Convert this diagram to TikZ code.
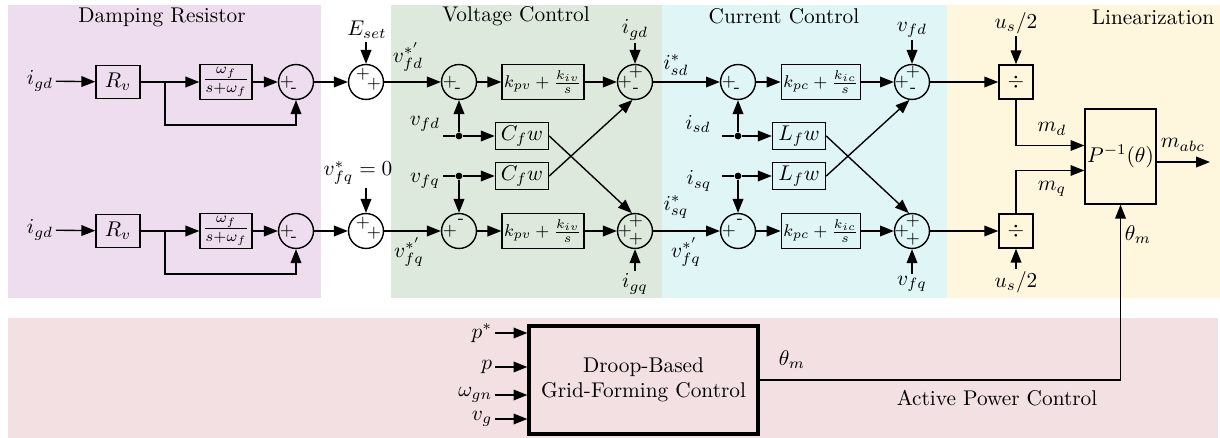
\documentclass[tikz,border=0pt]{standalone}
\usepackage{tikz}
\usetikzlibrary{positioning,arrows.meta}
\usepackage{amsmath}

\definecolor{dampbg}{RGB}{238,221,238}
\definecolor{voltbg}{RGB}{221,233,221}
\definecolor{currbg}{RGB}{224,246,246}
\definecolor{linbg}{RGB}{255,246,222}
\definecolor{apcbg}{RGB}{242,224,226}

\begin{document}
\begin{tikzpicture}[
x=0.0165cm, y=-0.0165cm,
line width=0.65pt,
>={Triangle[length=6.5pt,width=5pt]},
blk/.style={draw, inner sep=1pt},
sum/.style={draw, circle, minimum size=16.4pt, inner sep=0pt},
sgn/.style={inner sep=0pt, font=\footnotesize},
lbl/.style={inner sep=1pt},
dot/.style={circle, fill, inner sep=0pt, minimum size=3.2pt},
res/.style={blk, minimum width=20.7pt, minimum height=15.5pt},
lpf/.style={blk, minimum width=24.4pt, minimum height=16.4pt},
gain/.style={blk, minimum width=24.9pt, minimum height=12.7pt},
pictrl/.style={blk, minimum width=37pt, minimum height=16.4pt, font=\footnotesize},
divbox/.style={blk, minimum width=16pt, minimum height=16pt}]

\useasboundingbox (0,0) rectangle (1220,438);

% backgrounds
\fill[dampbg] (8,5) rectangle (321,298);
\fill[voltbg] (391,5) rectangle (662,298);
\fill[currbg] (662,5) rectangle (947,298);
\fill[linbg] (947,5) rectangle (1220,298);
\fill[apcbg] (8,318) rectangle (1218,438);

\node (tdamp) at (162,17) {Damping Resistor};
\node (tvolt) at (516,16) {Voltage Control};
\node (tcurr) at (784,16) {Current Control};
\node (tlin) at (1153,17) {Linearization};
\node (tapc) at (997,398) {Active Power Control};

% damping resistor, d
\node[lbl] (igd1) at (40,81) {$i_{gd}$};
\node[res] (rv1) at (118,82) {$R_v$};
\coordinate (br1) at (165,82);
\node[lpf] (lpf1) at (226,82) {$\frac{\omega_f}{s+\omega_f}$};
\node[sum] (sd1) at (296,82) {};
\draw[->] (igd1) -- (rv1);
\draw (rv1) -- (br1);
\draw[->] (br1) -- (lpf1);
\draw[->] (lpf1) -- (sd1);
\draw[->] (br1) -- ++(0,43) -| (sd1);

% damping resistor, q
\node[lbl] (igd2) at (40,230) {$i_{gd}$};
\node[res] (rv2) at (118,231) {$R_v$};
\coordinate (br2) at (165,231);
\node[lpf] (lpf2) at (226,231) {$\frac{\omega_f}{s+\omega_f}$};
\node[sum] (sd2) at (296,231) {};
\draw[->] (igd2) -- (rv2);
\draw (rv2) -- (br2);
\draw[->] (br2) -- (lpf2);
\draw[->] (lpf2) -- (sd2);
\draw[->] (br2) -- ++(0,43) -| (sd2);

% references
\node[lbl] (eset) at (367,30) {$E_{set}$};
\node[sum] (es1) at (366,82) {};
\node[lbl] (vfq0) at (358,173) {$v_{fq}^{*}=0$};
\node[sum] (es2) at (366,231) {};
\draw[->] (sd1) -- (es1);
\draw[->] (sd2) -- (es2);
\draw[->] (eset.south -| es1) -- (es1);
\draw[->] (vfq0.south -| es2) -- (es2);
\node[lbl] (vfdr) at (408,57) {$v_{fd}^{*'}$};
\node[lbl] (vfqr) at (409,252) {$v_{fq}^{*'}$};

% voltage control
\node[sum] (vd1) at (459,82) {};
\node[pictrl] (piv1) at (543,82) {$k_{pv}+\frac{k_{iv}}{s}$};
\node[sum] (vd2) at (635,82) {};
\node[lbl] (igdv) at (635,30) {$i_{gd}$};
\node[sum] (vq1) at (459,231) {};
\node[pictrl] (piv2) at (543,231) {$k_{pv}+\frac{k_{iv}}{s}$};
\node[sum] (vq2) at (635,231) {};
\node[lbl] (igq) at (635,284) {$i_{gq}$};
\draw[->] (es1) -- (vd1);
\draw[->] (vd1) -- (piv1);
\draw[->] (piv1) -- (vd2);
\draw[->] (igdv) -- (vd2);
\draw[->] (es2) -- (vq1);
\draw[->] (vq1) -- (piv2);
\draw[->] (piv2) -- (vq2);
\draw[->] (igq) -- (vq2);

\node[lbl] (vfd) at (425,124) {$v_{fd}$};
\coordinate (vfdin) at (443,136);
\node[dot] (jv1) at (459,136) {};
\node[gain] (cf1) at (522,136) {$C_fw$};
\node[lbl] (vfq) at (425,181) {$v_{fq}$};
\coordinate (vfqin) at (443,176);
\node[dot] (jv2) at (459,176) {};
\node[gain] (cf2) at (522,176) {$C_fw$};
\draw (vfdin) -- (jv1);
\draw[->] (jv1) -- (cf1);
\draw[->] (jv1) -- (vd1);
\draw (vfqin) -- (jv2);
\draw[->] (jv2) -- (cf2);
\draw[->] (jv2) -- (vq1);
\draw[->] (cf1.east) -- (vq2.100);
\draw[->] (cf2.east) -- (vd2.262);

% current control
\node[lbl] (isdr) at (676,65) {$i_{sd}^{*}$};
\node[lbl] (isqr) at (676,207) {$i_{sq}^{*}$};
\node[lbl] (vfqr2) at (686,252) {$v_{fq}^{*'}$};
\node[sum] (cd1) at (738,82) {};
\node[pictrl] (pic1) at (821,82) {$k_{pc}+\frac{k_{ic}}{s}$};
\node[sum] (cd2) at (912,82) {};
\node[lbl] (vfdc) at (912,30) {$v_{fd}$};
\node[sum] (cq1) at (738,231) {};
\node[pictrl] (pic2) at (821,231) {$k_{pc}+\frac{k_{ic}}{s}$};
\node[sum] (cq2) at (912,231) {};
\node[lbl] (vfqc) at (912,284) {$v_{fq}$};
\draw[->] (vd2) -- (cd1);
\draw[->] (cd1) -- (pic1);
\draw[->] (pic1) -- (cd2);
\draw[->] (vfdc) -- (cd2);
\draw[->] (vq2) -- (cq1);
\draw[->] (cq1) -- (pic2);
\draw[->] (pic2) -- (cq2);
\draw[->] (vfqc) -- (cq2);

\node[lbl] (isd) at (698,124) {$i_{sd}$};
\coordinate (isdin) at (722,136);
\node[dot] (jc1) at (738,136) {};
\node[gain] (lf1) at (799,136) {$L_fw$};
\node[lbl] (isq) at (699,181) {$i_{sq}$};
\coordinate (isqin) at (722,176);
\node[dot] (jc2) at (738,176) {};
\node[gain] (lf2) at (799,176) {$L_fw$};
\draw (isdin) -- (jc1);
\draw[->] (jc1) -- (lf1);
\draw[->] (jc1) -- (cd1);
\draw (isqin) -- (jc2);
\draw[->] (jc2) -- (lf2);
\draw[->] (jc2) -- (cq1);
\draw[->] (lf1.east) -- (cq2.100);
\draw[->] (lf2.east) -- (cd2.262);

% signs
\node[sgn] at ([shift={(-9,0)}]sd1) {$+$};
\node[sgn] at ([shift={(-2,8)}]sd1) {-};
\node[sgn] at ([shift={(-9,0)}]sd2) {$+$};
\node[sgn] at ([shift={(-2,8)}]sd2) {-};
\node[sgn] at ([shift={(-3,-8)}]es1) {$+$};
\node[sgn] at ([shift={(8,2)}]es1) {$+$};
\node[sgn] at ([shift={(-3,-8)}]es2) {$+$};
\node[sgn] at ([shift={(8,2)}]es2) {$+$};
\node[sgn] at ([shift={(-9,0)}]vd1) {$+$};
\node[sgn] at ([shift={(-1,8)}]vd1) {-};
\node[sgn] at ([shift={(-9,0)}]vq1) {$+$};
\node[sgn] at ([shift={(2,-10)}]vq1) {-};
\node[sgn] at ([shift={(-10,0)}]vd2) {$+$};
\node[sgn] at ([shift={(1,-10)}]vd2) {$+$};
\node[sgn] at ([shift={(1,8)}]vd2) {-};
\node[sgn] at ([shift={(-10,0)}]vq2) {$+$};
\node[sgn] at ([shift={(1,-10)}]vq2) {$+$};
\node[sgn] at ([shift={(1,8)}]vq2) {$+$};
\node[sgn] at ([shift={(-9,0)}]cd1) {$+$};
\node[sgn] at ([shift={(-1,8)}]cd1) {-};
\node[sgn] at ([shift={(-9,0)}]cq1) {$+$};
\node[sgn] at ([shift={(2,-10)}]cq1) {-};
\node[sgn] at ([shift={(-10,0)}]cd2) {$+$};
\node[sgn] at ([shift={(1,-10)}]cd2) {$+$};
\node[sgn] at ([shift={(1,8)}]cd2) {-};
\node[sgn] at ([shift={(-10,0)}]cq2) {$+$};
\node[sgn] at ([shift={(1,-10)}]cq2) {$+$};
\node[sgn] at ([shift={(1,8)}]cq2) {$+$};

% linearization
\node[lbl] (us1) at (1016,23) {$u_s/2$};
\node[divbox] (div1) at (1016,82) {$\div$};
\node[divbox] (div2) at (1016,231) {$\div$};
\node[lbl] (us2) at (1016,282) {$u_s/2$};
\node[blk, minimum width=32.4pt, minimum height=44.6pt] (pinv) at (1120.5,156.5) {$P^{-1}(\theta)$};
\coordinate (mout) at (1210,162);
\draw[->] (cd2) -- (div1);
\draw[->] (cq2) -- (div2);
\draw[->] (us1) -- (div1);
\draw[->] (us2) -- (div2);
\draw[->] (div1) |- ([shift={(0,-11)}]pinv.west);
\draw[->] (div2) |- ([shift={(0,14)}]pinv.west);
\draw[->] (pinv.east |- mout) -- (mout);
\node[lbl] (md) at (1052,129) {$m_d$};
\node[lbl] (mq) at (1052,189) {$m_q$};
\node[lbl] (mabc) at (1183,145) {$m_{abc}$};
\node[lbl] (thp) at (1138,235) {$\theta_m$};

% active power control
\node[draw, line width=1.5pt, minimum width=107.5pt, minimum height=50.7pt, align=center] (gfc) at (643.5,380) {Droop-Based\\Grid-Forming Control};
\node[lbl, anchor=east] (pst) at (495,333) {$p^{*}$};
\node[lbl, anchor=east] (pin) at (495,367) {$p$};
\node[lbl, anchor=east] (wgn) at (495,395) {$\omega_{gn}$};
\node[lbl, anchor=east] (vg) at (495,419) {$v_g$};
\draw[->] (pst.east) -- (pst.east -| gfc.west);
\draw[->] (pin.east) -- (pin.east -| gfc.west);
\draw[->] (wgn.east) -- (wgn.east -| gfc.west);
\draw[->] (vg.east) -- (vg.east -| gfc.west);
\node[lbl] (thg) at (792,360) {$\theta_m$};
\draw[->] (gfc.east) -| (pinv);

\end{tikzpicture}
\end{document}
